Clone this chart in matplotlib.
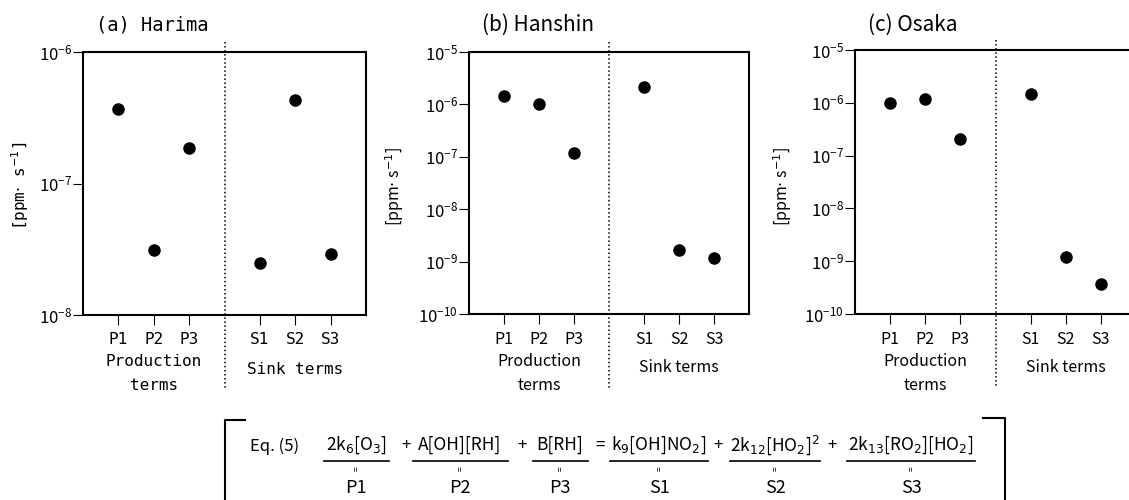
import numpy as np
import matplotlib
matplotlib.use('Agg')
import matplotlib.pyplot as plt

plt.rcParams['font.family'] = ['Noto Sans CJK JP', 'DejaVu Sans']
plt.rcParams['mathtext.fontset'] = 'dejavusans'

# data
terms = ['P1', 'P2', 'P3', 'S1', 'S2', 'S3']
harima = [3.7e-7, 3.1e-8, 1.85e-7, 2.5e-8, 4.3e-7, 2.9e-8]
hanshin = [1.45e-6, 1.0e-6, 1.2e-7, 2.15e-6, 1.7e-9, 1.15e-9]
osaka = [1.0e-6, 1.2e-6, 2.1e-7, 1.5e-6, 1.2e-9, 3.7e-10]

titles = ['(a) Harima', '(b) Hanshin', '(c) Osaka']
ylims = [(-8, -6), (-10, -5), (-10, -5)]

eq_terms = ['2k$_6$[O$_3$]', 'A[OH][RH]', 'B[RH]', 'k$_9$[OH]NO$_2$]',
            '2k$_{12}$[HO$_2$]$^2$', '2k$_{13}$[RO$_2$][HO$_2$]']
eq_ops = ['+', '+', '=', '+', '+']

# x positions: production terms at 1..3, sink terms at 5..7, divider at 4
xpos = [i + 1 if i < 3 else i + 2 for i in range(len(terms))]

W, H = 1129, 500
fig = plt.figure(figsize=(W / 100, H / 100), dpi=100)

# axes boxes in pixels: left, top, right, bottom
boxes = [(83, 52, 366, 315), (469, 52, 749, 314), (855, 50, 1136, 314)]
fonts = ['DejaVu Sans Mono', 'Noto Sans CJK JP', 'Noto Sans CJK JP']
title_size = [13.5, 15, 15]
ylab_x = [20, 395, 783]

for k, vals in enumerate([harima, hanshin, osaka]):
    l, t, r, b = boxes[k]
    ax = fig.add_axes([l / W, 1 - b / H, (r - l) / W, (b - t) / H])
    fnt = fonts[k]
    ax.semilogy(xpos, vals, 'o', color='black', ms=8, clip_on=False)
    ax.set_xlim(0, 8)
    lo, hi = ylims[k]
    ax.set_ylim(10.0 ** lo, 10.0 ** hi)
    ax.set_yticks(10.0 ** np.arange(lo, hi + 1))
    ax.minorticks_off()
    ax.set_xticks(xpos)
    ax.set_xticklabels(terms, family=fnt, fontsize=11.5)
    ax.tick_params(axis='y', direction='out', length=7, width=0.8, labelsize=12, pad=1)
    ax.tick_params(axis='x', direction='out', length=7, width=0.8, pad=5)
    for s in ax.spines.values():
        s.set_linewidth(1.5)

    h = b - t
    ax.plot([4, 4], [1 + 10 / h, -(388 - b) / h], transform=ax.get_xaxis_transform(),
            ls=':', color='black', lw=1.1, clip_on=False)

    ax.text(0.045, (b - 25) / h, titles[k], transform=ax.transAxes,
            ha='left', va='center', fontsize=title_size[k], family=fnt)
    fig.text(ylab_x[k] / W, 1 - 186 / H, '[ppm$\\cdot$ s$^{-1}$]', rotation=90,
             ha='center', va='center', fontsize=11.5, family=fnt)

    for txt, xc, dy in [('Production', 2, -47), ('terms', 2, -71), ('Sink terms', 6, -54)]:
        ax.annotate(txt, xy=(xc, 0), xycoords=('data', 'axes fraction'),
                    xytext=(0, dy), textcoords='offset pixels',
                    ha='center', va='center', fontsize=11.5, family=fnt)

# equation box underneath
ov = fig.add_axes([0, 0, 1, 1], zorder=-1)
ov.set_xlim(0, W)
ov.set_ylim(H, 0)
ov.axis('off')

eq_cx = [356, 460, 560, 659, 775, 911]
eq_w = [65, 95, 55, 98, 90, 128]
op_x = [406, 522, 600, 718, 832]

ov.text(250, 446, 'Eq. (5)', ha='left', va='center', fontsize=12)
for term, lab, cx, w in zip(eq_terms, terms, eq_cx, eq_w):
    ov.text(cx, 445, term, ha='center', va='center', fontsize=12.5)
    ov.plot([cx - w / 2, cx + w / 2], [461, 461], color='black', lw=1.2)
    ov.text(cx, 469, '=', rotation=90, ha='center', va='center', fontsize=6)
    ov.text(cx, 488, lab, ha='center', va='center', fontsize=13)
for op, x in zip(eq_ops, op_x):
    ov.text(x, 445, op, ha='center', va='center', fontsize=12)

ov.plot([245, 225, 225], [420, 420, 500], color='black', lw=1.5)
ov.plot([983, 1005, 1005], [418, 418, 500], color='black', lw=1.5)

fig.savefig('out.png', dpi=100)
